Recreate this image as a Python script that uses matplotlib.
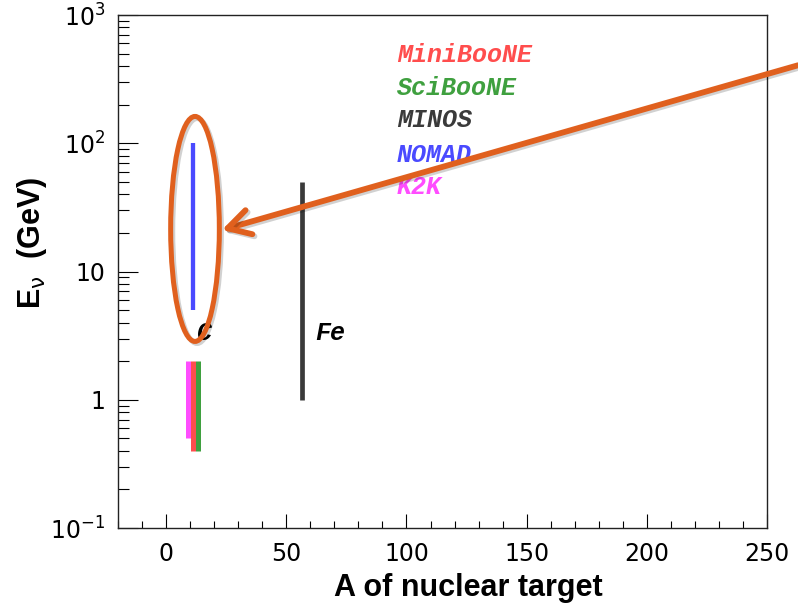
import numpy as np
import matplotlib
matplotlib.use("Agg")
import matplotlib.pyplot as plt
from matplotlib.patches import Ellipse
from matplotlib.ticker import FixedLocator, FixedFormatter, MultipleLocator, LogLocator, NullFormatter
import matplotlib.patheffects as pe

plt.rcParams["mathtext.fontset"] = "custom"
plt.rcParams["mathtext.rm"] = "DejaVu Sans"
plt.rcParams["mathtext.it"] = "DejaVu Sans"
plt.rcParams["mathtext.bf"] = "Liberation Sans:bold"

# experiments: target A (drawn position), energy range in GeV
experiments = ["MiniBooNE", "SciBooNE", "MINOS", "NOMAD", "K2K"]
target_A = [11.2, 13.3, 56.5, 11.1, 9.2]
E_low = [0.4, 0.4, 1.0, 5.0, 0.5]
E_high = [2.0, 2.0, 50.0, 100.0, 2.0]
colors = ["#ff4d4d", "#3fa03f", "#3a3a3a", "#4a4aff", "#ff4dff"]
bar_widths = [3.6, 3.6, 3.4, 3.1, 3.6]

# nucleus labels
nuclei = ["C", "Fe"]
nuclei_A = [13.0, 62.0]
nuclei_E = [3.3, 3.3]

yticks = [0.1, 1, 10, 100, 1000]
yticklabels = [r"$10^{-1}$", "1", "10", r"$10^{2}$", r"$10^{3}$"]

fig = plt.figure(figsize=(7.98, 6.10), dpi=100)
ax = fig.add_axes([0.1479, 0.1344, 0.8133, 0.841])

for A, lo, hi, c, w in zip(target_A, E_low, E_high, colors, bar_widths):
    ax.plot([A, A], [lo, hi], color=c, lw=w, solid_capstyle="butt")

ax.set_yscale("log")
ax.set_xlim(-20, 250)
ax.set_ylim(0.1, 1000)

ax.yaxis.set_major_locator(FixedLocator(yticks))
ax.yaxis.set_major_formatter(FixedFormatter(yticklabels))
ax.yaxis.set_minor_locator(LogLocator(base=10, subs=np.arange(2, 10)))
ax.yaxis.set_minor_formatter(NullFormatter())
ax.xaxis.set_major_locator(MultipleLocator(50))
ax.xaxis.set_minor_locator(MultipleLocator(10))

ax.tick_params(axis="both", which="both", direction="in", width=0.8, colors="black",
               top=False, right=False)
ax.tick_params(axis="y", which="major", length=14.4, pad=9, labelsize=17)
ax.tick_params(axis="y", which="minor", length=7.9)
ax.tick_params(axis="x", which="major", length=10, pad=10, labelsize=17)
ax.tick_params(axis="x", which="minor", length=5)
for lab in ax.get_xticklabels() + ax.get_yticklabels():
    lab.set_fontfamily("DejaVu Sans")
for s in ax.spines.values():
    s.set_linewidth(1.0)
    s.set_color("#222222")

ax.set_xlabel("A of nuclear target", fontsize=22, fontweight="bold",
              fontfamily="Liberation Sans")
ax.set_ylabel(r"$\mathbf{E}_{\nu}$  (GeV)", fontsize=22, fontweight="bold",
              fontfamily="Liberation Sans")
ax.xaxis.set_label_coords(0.539, -0.088)
ax.yaxis.set_label_coords(-0.106, 0.556)

# experiment names
mono = dict(fontfamily="Liberation Mono", fontweight="bold", fontstyle="italic", fontsize=18)
label_y = [0.922, 0.858, 0.795, 0.727, 0.665]
for name, c, yy in zip(experiments, colors, label_y):
    ax.text(0.430, yy, name, color=c, transform=ax.transAxes, va="center", ha="left", **mono)

for name, A, E in zip(nuclei, nuclei_A, nuclei_E):
    ax.text(A, E, name, color="black", va="center", ha="left", **mono)

# highlight on the carbon NOMAD range
orange = "#e0601e"
shadow = [pe.SimpleLineShadow(offset=(1.5, -1.5), shadow_color="k", alpha=0.18), pe.Normal()]
ell = Ellipse((0.1186, 0.583), 0.075, 0.4386, transform=ax.transAxes, fill=False,
              edgecolor=orange, lw=3.6, clip_on=False, zorder=5)
ell.set_path_effects(shadow)
ax.add_patch(ell)

ann = ax.annotate("", xy=(0.160, 0.581), xycoords="axes fraction",
                  xytext=(1.0, 0.893), textcoords="figure fraction",
                  arrowprops=dict(arrowstyle="->,head_length=0.8,head_width=0.45",
                                  color=orange, lw=4.2, shrinkA=0, shrinkB=0,
                                  mutation_scale=20),
                  annotation_clip=False, zorder=6)
ann.arrow_patch.set_path_effects(shadow)

fig.savefig("out.png", dpi=100)
